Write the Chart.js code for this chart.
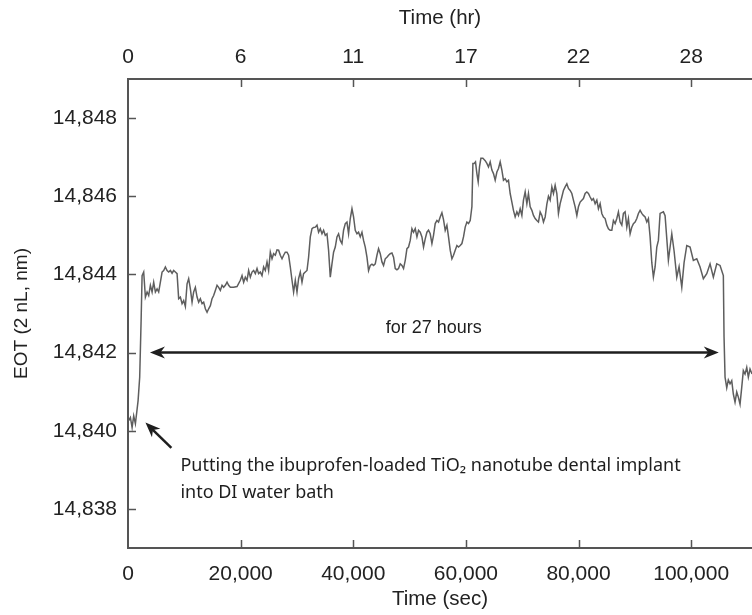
<!DOCTYPE html>
<html>
<head>
<meta charset="utf-8">
<script src="https://cdn.jsdelivr.net/npm/chart.js@4.4.1/dist/chart.umd.min.js"></script>
<style>
html, body { margin: 0; padding: 0; background: #fff; }
#wrap { width: 752px; height: 615px; }
</style>
</head>
<body>
<div id="wrap"><canvas id="myChart" width="752" height="615"></canvas></div>
<script>
/* 시간 (초) */
var timeSec = [124,426,728,1012,1313,1792,2076,2325,2502,2786,3088,3390,3673,3975,4277,4561,4862,5164,5448,5750,
	6051,6335,6637,6939,7223,7524,7826,8110,8412,8713,8997,9299,9601,9885,10186,10488,10772,11074,11375,11659,
	11961,12263,12547,12848,13150,13434,13736,14037,14321,14623,14924,15208,15510,15812,16096,16397,16699,16983,17285,17586,
	17870,18172,18758,19361,19947,20248,20532,20834,21136,21420,21721,22023,22307,22609,22910,23194,23496,23797,24081,24383,
	24685,24969,25270,25572,25856,26158,26459,26743,27045,27347,27631,27932,28234,28518,28820,29121,29405,29707,30009,30293,
	30594,30896,31180,31482,31783,32067,32369,32671,32955,33256,33558,33842,34143,34445,34729,35031,35332,35616,35918,36219,
	36503,36805,37107,37391,37692,37994,38278,38580,38881,39165,39467,39769,40053,40354,40656,40940,41242,41543,41827,42129,
	42430,42714,43016,43318,43602,43903,44205,44489,44791,45092,45376,45678,45980,46264,46565,46867,47151,47453,47754,48038,
	48340,48642,48926,49227,49529,49813,50115,50416,50700,51002,51304,51588,51889,52191,52475,52776,53078,53362,53664,53965,
	54249,54551,54853,55137,55438,55740,56024,56326,56627,56911,57213,57515,57799,58100,58402,58686,58988,59289,59573,59875,
	60177,60461,60762,61064,61241,61472,61703,61951,62182,62413,62661,63016,63424,63726,64010,64312,64613,64897,65199,65500,
	65784,66086,66388,66672,66973,67275,67559,67861,68162,68446,68748,69050,69334,69635,69937,70221,70523,70824,71108,71410,
	71712,71996,72297,72599,72883,73185,73486,73770,74072,74374,74658,74959,75261,75545,75847,76148,76432,76734,77036,77320,
	77621,77923,78207,78509,78810,79094,79396,79698,79982,80283,80585,80869,81171,81472,81756,82058,82360,82644,82945,83247,
	83531,83833,84134,84418,84720,85022,85306,85607,85909,86193,86495,86796,87080,87382,87684,87968,88269,88571,88855,89157,
	89458,89742,90044,90346,90630,90931,91233,91517,91819,92120,92404,92706,93008,93292,93593,93895,94179,94481,95066,95368,
	95954,96557,96965,97444,97852,98331,98739,99218,99804,100389,100992,101578,102164,102767,103352,103938,104541,105127,105712,105836,
	106014,106315,106599,106901,107203,107487,107788,108090,108374,108676,108977,109261,109563,109865,110149,110450,110805];

/* EOT 값 (nm) */
var eotValues = [14840.26,14840.34,14840.08,14840.38,14840.18,14840.77,14841.37,14842.8,14843.97,14844.06,
	14843.42,14843.55,14843.46,14843.72,14843.55,14843.8,14843.55,14843.63,14843.55,14843.8,
	14844.06,14844.1,14844.19,14844.1,14844.06,14844.1,14844.03,14844.1,14844.06,14844.02,
	14843.38,14843.42,14843.25,14843.33,14843.18,14843.76,14843.89,14843.63,14843.29,14843.55,
	14843.67,14843.42,14843.29,14843.38,14843.25,14843.29,14843.12,14843.03,14843.12,14843.2,
	14843.38,14843.46,14843.59,14843.72,14843.67,14843.59,14843.72,14843.67,14843.72,14843.8,
	14843.72,14843.67,14843.67,14843.69,14843.85,14843.97,14843.8,14843.93,14843.85,14844.1,
	14843.93,14844.06,14844.1,14844.02,14844.15,14844.02,14844.06,14843.97,14844.19,14844.1,
	14844.32,14844.1,14844.57,14844.4,14844.53,14844.49,14844.63,14844.62,14844.49,14844.4,
	14844.49,14844.57,14844.57,14844.49,14844.19,14843.85,14843.55,14843.85,14843.55,14843.89,
	14844.06,14843.8,14844.02,14844.06,14844.1,14844.44,14844.96,14845.17,14845.2,14845.21,
	14845.26,14845.08,14845.17,14845.04,14845.13,14845.0,14845.04,14844.62,14843.93,14844.27,
	14844.57,14844.7,14844.96,14845.04,14844.87,14844.79,14845.13,14845.3,14845.34,14845.04,
	14845.43,14845.68,14845.47,14845.13,14845.04,14845.08,14844.96,14845.08,14844.87,14844.7,
	14844.44,14844.1,14844.23,14844.26,14844.23,14844.27,14844.49,14844.66,14844.53,14844.32,
	14844.23,14844.4,14844.44,14844.49,14844.53,14844.55,14844.44,14844.15,14844.12,14844.15,
	14844.27,14844.23,14844.15,14844.36,14844.66,14844.7,14844.87,14845.17,14845.08,14845.17,
	14844.96,14845.13,14845.08,14844.96,14844.7,14844.91,14845.08,14845.13,14845.04,14844.79,
	14845.0,14845.3,14845.38,14845.34,14845.47,14845.58,14845.4,14845.13,14845.26,14844.96,
	14844.62,14844.4,14844.49,14844.62,14844.74,14844.7,14844.74,14844.79,14844.96,14845.21,
	14845.34,14845.3,14845.38,14845.73,14846.84,14846.84,14846.88,14846.58,14846.37,14846.75,
	14846.97,14846.97,14846.91,14846.84,14846.75,14846.88,14846.67,14846.58,14846.41,14846.62,
	14846.71,14846.88,14846.67,14846.41,14846.45,14846.37,14846.41,14846.07,14845.85,14845.64,
	14845.47,14845.6,14845.51,14845.68,14845.51,14845.9,14846.11,14845.81,14846.07,14845.73,
	14845.64,14845.51,14845.43,14845.38,14845.34,14845.6,14845.51,14845.34,14845.47,14845.8,
	14846.0,14845.9,14846.24,14846.07,14846.28,14846.07,14845.56,14845.81,14845.98,14846.15,
	14846.24,14846.32,14846.2,14846.15,14846.07,14845.9,14845.73,14845.51,14845.73,14845.85,
	14845.9,14845.94,14846.07,14846.11,14846.07,14845.98,14845.9,14845.94,14845.81,14845.9,
	14845.68,14845.81,14845.56,14845.47,14845.43,14845.26,14845.17,14845.13,14845.13,14845.38,
	14845.3,14845.43,14845.6,14845.34,14845.26,14845.56,14845.6,14845.21,14845.43,14845.04,
	14845.21,14845.3,14845.34,14845.43,14845.56,14845.64,14845.56,14845.51,14845.47,14845.34,
	14845.43,14844.96,14844.3,14843.93,14844.19,14844.7,14844.87,14845.56,14845.6,14845.5,
	14844.36,14845.04,14844.6,14843.93,14844.2,14843.67,14844.3,14844.74,14844.7,14844.36,
	14844.4,14844.19,14843.89,14844.02,14844.27,14843.93,14844.27,14844.23,14843.97,14842.4,
	14841.37,14841.1,14841.3,14841.2,14841.28,14840.94,14840.73,14840.99,14840.86,14840.68,
	14841.11,14841.54,14841.45,14841.62,14841.37,14841.58,14841.45];

/* 축 눈금 */
var xTicks = [0, 20000, 40000, 60000, 80000, 100000];
var hourLabels = ['0', '6', '11', '17', '22', '28'];
var yTicks = [14838, 14840, 14842, 14844, 14846, 14848];

var X_MAX = 110800;
var FONT = 'Liberation Sans, Arial, sans-serif';

/* 화살표 머리 */
function arrowHead(ctx, x, y, ang){
	var len = 15, half = 6;
	ctx.beginPath();
	ctx.moveTo(x, y);
	ctx.lineTo(x - len * Math.cos(ang) + half * Math.sin(ang), y - len * Math.sin(ang) - half * Math.cos(ang));
	ctx.lineTo(x - len * Math.cos(ang) * 0.7, y - len * Math.sin(ang) * 0.7);
	ctx.lineTo(x - len * Math.cos(ang) - half * Math.sin(ang), y - len * Math.sin(ang) + half * Math.cos(ang));
	ctx.closePath();
	ctx.fill();
}

/* 안쪽 눈금 */
var innerTicks = {
	id: 'innerTicks',
	afterDraw: function(chart){
		var ctx = chart.ctx, a = chart.chartArea;
		var x = chart.scales.x, y = chart.scales.y;
		ctx.save();
		ctx.strokeStyle = '#555';
		ctx.lineWidth = 1.5;
		xTicks.forEach(function(v){
			if (v === 0) return;
			var px = Math.round(x.getPixelForValue(v)) + 0.5;
			ctx.beginPath();
			ctx.moveTo(px, a.bottom); ctx.lineTo(px, a.bottom - 8);
			ctx.moveTo(px, a.top); ctx.lineTo(px, a.top + 8);
			ctx.stroke();
		});
		yTicks.forEach(function(v){
			var py = Math.round(y.getPixelForValue(v)) + 0.5;
			ctx.beginPath();
			ctx.moveTo(a.left, py); ctx.lineTo(a.left + 8, py);
			ctx.stroke();
		});
		ctx.restore();
	}
};

/* 주석 */
var notes = {
	id: 'notes',
	afterDraw: function(chart){
		var ctx = chart.ctx;
		var x = chart.scales.x, y = chart.scales.y;
		ctx.save();
		ctx.strokeStyle = '#1e1e1e';
		ctx.fillStyle = '#1e1e1e';
		ctx.lineWidth = 2.5;
		/* 27시간 양방향 화살표 */
		var x1 = x.getPixelForValue(3900), x2 = x.getPixelForValue(104900), ay = y.getPixelForValue(14842);
		ctx.beginPath();
		ctx.moveTo(x1 + 10, ay); ctx.lineTo(x2 - 10, ay);
		ctx.stroke();
		arrowHead(ctx, x1, ay, Math.PI);
		arrowHead(ctx, x2, ay, 0);
		ctx.font = '18px ' + FONT;
		ctx.textAlign = 'center';
		ctx.textBaseline = 'middle';
		ctx.fillText('for 27 hours', x.getPixelForValue(54300), y.getPixelForValue(14842.62));
		/* 투입 시점 화살표 */
		var tx = x.getPixelForValue(3100), ty = y.getPixelForValue(14840.21);
		var sx = x.getPixelForValue(7700), sy = y.getPixelForValue(14839.56);
		var ang = Math.atan2(ty - sy, tx - sx);
		ctx.beginPath();
		ctx.moveTo(sx, sy); ctx.lineTo(tx - 10 * Math.cos(ang), ty - 10 * Math.sin(ang));
		ctx.stroke();
		arrowHead(ctx, tx, ty, ang);
		ctx.font = '18px "Noto Sans", sans-serif';
		ctx.textAlign = 'left';
		ctx.fillText('Putting the ibuprofen-loaded TiO\u2082 nanotube dental implant', x.getPixelForValue(9300), y.getPixelForValue(14839.1));
		ctx.fillText('into DI water bath', x.getPixelForValue(9300), y.getPixelForValue(14838.42));
		ctx.restore();
	}
};

function setTicks(list){
	return function(scale){
		scale.ticks = list.map(function(v){ return { value: v }; });
	};
}

function createChart(){
	var points = [];
	for (var i = 0; i < Math.min(timeSec.length, eotValues.length); i++){
		points.push({ x: timeSec[i], y: eotValues[i] });
	}
	var ctx = document.getElementById('myChart').getContext('2d');
	Chart.defaults.font.family = FONT;
	Chart.defaults.color = '#222';
	new Chart(ctx, {
		type: 'line',
		data: {
			datasets: [{
				data: points,
				borderColor: '#5e5e5e',
				borderWidth: 1.5,
				pointRadius: 0,
				tension: 0
			}]
		},
		options: {
			responsive: false,
			animation: false,
			layout: { padding: 0 },
			plugins: { legend: { display: false }, tooltip: { enabled: false } },
			scales: {
				x: {
					type: 'linear', position: 'bottom', min: 0, max: X_MAX,
					afterBuildTicks: setTicks(xTicks),
					afterFit: function(s){ s.height = 67; },
					ticks: { font: { size: 21 }, padding: 14, maxRotation: 0,
						callback: function(v){ return v.toLocaleString('en-US'); } },
					grid: { display: true, drawOnChartArea: false, drawTicks: false },
					border: { display: true, color: '#555', width: 2 },
					title: { display: true, text: 'Time (sec)', font: { size: 20.5 }, padding: { top: 0, bottom: 3 } }
				},
				x2: {
					type: 'linear', position: 'top', min: 0, max: X_MAX,
					afterBuildTicks: setTicks(xTicks),
					afterFit: function(s){ s.height = 79; },
					ticks: { font: { size: 21 }, padding: 9, maxRotation: 0,
						callback: function(v, i){ return hourLabels[i]; } },
					grid: { display: true, drawOnChartArea: false, drawTicks: false },
					border: { display: true, color: '#555', width: 2 },
					title: { display: true, text: 'Time (hr)', font: { size: 20.5 }, padding: { top: 6, bottom: 0 } }
				},
				y: {
					type: 'linear', position: 'left', min: 14837, max: 14849,
					afterBuildTicks: setTicks(yTicks),
					afterFit: function(s){ s.width = 128; },
					ticks: { font: { size: 21 }, padding: 11,
						callback: function(v){ return v.toLocaleString('en-US'); } },
					grid: { display: true, drawOnChartArea: false, drawTicks: false },
					border: { display: true, color: '#555', width: 2 },
					title: { display: true, text: 'EOT (2 nL, nm)', font: { size: 19 }, padding: { top: 10, bottom: 0 } }
				}
			}
		},
		plugins: [innerTicks, notes]
	});
}

createChart();
</script>
</body>
</html>
